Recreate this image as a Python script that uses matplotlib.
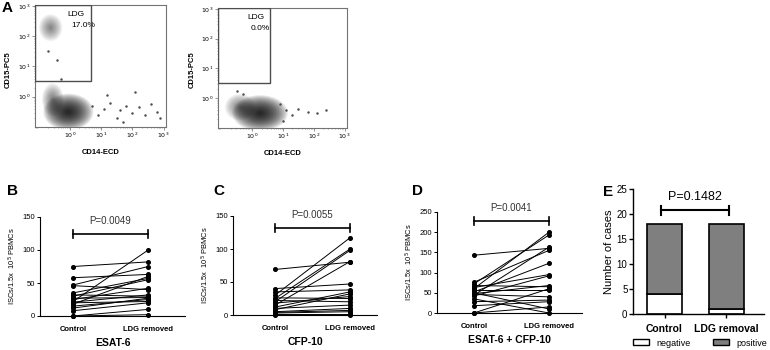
import numpy as np
import matplotlib
matplotlib.use("Agg")
from matplotlib import pyplot as plt
from matplotlib.patches import Ellipse, Rectangle, Patch

plt.rcParams["font.family"] = ["Liberation Sans", "DejaVu Sans"]

# ---- panel A: flow cytometry (log10 units) ----
# populations: (centre log10 CD14, centre log10 CD15, half-width, half-height, density)
pops_before = [(-0.05, -0.5, 0.8, 0.6, 0.10), (-0.55, -0.1, 0.35, 0.55, 0.04),
               (-0.62, 2.28, 0.38, 0.45, 0.035)]
pops_after = [(0.25, -0.5, 0.9, 0.6, 0.10), (-0.4, -0.3, 0.5, 0.45, 0.04)]
# sparse events on the CD14 tail (log10 x, log10 y)
tail_before_x = [0.7, 0.9, 1.1, 1.3, 1.5, 1.6, 1.8, 2.0, 2.2, 2.4, 2.6, 2.8, 2.9, 1.2, 2.1, 1.7, -0.4, -0.7, -0.3]
tail_before_y = [-0.3, -0.6, -0.4, -0.2, -0.7, -0.45, -0.3, -0.55, -0.35, -0.6, -0.25, -0.5, -0.7, 0.05, 0.15, -0.85, 1.2, 1.5, 0.6]
tail_after_x = [1.1, 1.3, 1.5, 1.8, 2.1, 2.4, 1.0, 0.9, -0.5, -0.3]
tail_after_y = [-0.4, -0.55, -0.35, -0.45, -0.5, -0.4, -0.75, -0.2, 0.25, 0.15]
ldg_pct = ["17.0%", "0.0%"]

# ---- panels B-D: paired ISC counts ----
esat_ctrl = [75, 58, 47, 46, 35, 32, 30, 27, 25, 22, 21, 20, 18, 15, 12, 8, 0, 0]
esat_ldg = [82, 63, 75, 40, 57, 30, 55, 28, 42, 100, 32, 22, 60, 25, 27, 20, 10, 2]
cfp_ctrl = [69, 40, 35, 30, 26, 25, 22, 20, 18, 15, 12, 10, 8, 5, 4, 3, 2, 0]
cfp_ldg = [80, 47, 38, 117, 25, 100, 20, 98, 28, 81, 35, 15, 32, 10, 7, 5, 2, 0]
comb_ctrl = [143, 76, 72, 68, 63, 60, 58, 52, 48, 46, 44, 42, 28, 18, 0, 0, 50, 35]
comb_ldg = [160, 155, 193, 65, 95, 200, 58, 123, 68, 40, 163, 92, 32, 28, 60, 15, 10, 0]
p_values = ["P=0.0049", "P=0.0055", "P=0.0041"]

# ---- panel E: case counts ----
groups = ["Control", "LDG removal"]
negative = [4, 1]
positive = [14, 17]

W, H = 770, 350
fig = plt.figure(figsize=(W / 100, H / 100), dpi=100)


def px_axes(l, t, r, b):
    return fig.add_axes([l / W, 1 - b / H, (r - l) / W, (b - t) / H])


def flow_panel(ax, pops, tx, ty, pct, gate_r, ylab_x):
    ax.set_xlim(-1.12, 3.08)
    ax.set_ylim(-1.0, 3.03)
    # each population as a stack of faint ellipses -> dark core, light rim
    for cx, cy, w, h, dens in pops:
        for s in np.linspace(1.0, 0.1, 16):
            ax.add_patch(Ellipse((cx, cy), 2 * w * s, 2 * h * s, facecolor="black",
                                 alpha=dens, edgecolor="none", zorder=2))
    ax.scatter(tx, ty, s=0.6, color="0.3", zorder=3)
    ax.add_patch(Rectangle((-1.12, np.log10(3.3)), 1.12 + gate_r, 3.03 - np.log10(3.3),
                           fill=False, edgecolor="0.3", lw=1.0, zorder=5))
    ax.text(gate_r - 0.75, 2.72, "LDG", fontsize=6, ha="left", va="center")
    ax.text(gate_r - 0.65, 2.35, pct, fontsize=6, ha="left", va="center")
    ticks = [0, 1, 2, 3]
    ax.set_xticks(ticks)
    ax.set_yticks(ticks)
    ax.set_xticklabels([f"$10^{t}$" for t in ticks], fontsize=4.5)
    ax.set_yticklabels([f"$10^{t}$" for t in ticks], fontsize=4.5)
    minor = [d + np.log10(m) for d in range(-2, 4) for m in range(2, 10)]
    ax.set_xticks([m for m in minor if -1.12 < m < 3.08], minor=True)
    ax.set_yticks([m for m in minor if -1.0 < m < 3.03], minor=True)
    ax.tick_params(length=2, width=0.5, pad=1, color="0.4")
    ax.tick_params(which="minor", length=1, width=0.4, color="0.4")
    for s in ax.spines.values():
        s.set_color("0.45")
        s.set_linewidth(0.8)
    ax.set_xlabel("CD14-ECD", fontsize=5.5, fontweight="bold", labelpad=6)
    fig.text(ylab_x / W, 1 - 70 / H, "CD15-PC5", rotation=90, fontsize=5.5,
             fontweight="bold", ha="center", va="center")


axA1 = px_axes(35, 5, 166, 127)
flow_panel(axA1, pops_before, tail_before_x, tail_before_y, ldg_pct[0], np.log10(4.8), 8)
axA2 = px_axes(218, 8, 347, 128)
flow_panel(axA2, pops_after, tail_after_x, tail_after_y, ldg_pct[1], np.log10(3.8), 192)
fig.text(2 / W, 1 - 8 / H, "A", fontsize=11, fontweight="bold", va="center")


def paired_panel(ax, ctrl, ldg, ymax, step, p, bar_y, xlim, title):
    for a, b in zip(ctrl, ldg):
        ax.plot([0, 1], [a, b], color="black", lw=0.7, marker="o", ms=2.6,
                zorder=3, clip_on=False)
    ax.set_xlim(*xlim)
    ax.set_ylim(0, ymax)
    ax.set_yticks(np.arange(0, ymax + 1, step))
    ax.set_xticks([0, 1])
    ax.set_xticklabels(["Control", "LDG removed"], fontsize=5.5, fontweight="bold")
    ax.tick_params(axis="x", length=0, pad=7)
    ax.tick_params(axis="y", length=2.5, width=0.7, labelsize=5.5, pad=1)
    for s in ("top", "right"):
        ax.spines[s].set_visible(False)
    for s in ("left", "bottom"):
        ax.spines[s].set_linewidth(0.8)
    ax.plot([0, 1], [bar_y, bar_y], color="black", lw=1.2, clip_on=False)
    for x in (0, 1):
        ax.plot([x, x], [bar_y - ymax * 0.04, bar_y + ymax * 0.04], color="black",
                lw=1.2, clip_on=False)
    ax.text(0.5, bar_y + ymax * 0.08, p, fontsize=7, ha="center", va="bottom", color="0.2")
    ax.set_ylabel("ISCs/1.5x  10$^5$ PBMCs", fontsize=5.4, labelpad=3)
    ax.set_xlabel(title, fontsize=7.5, fontweight="bold", labelpad=4)


axB = px_axes(40, 217, 185, 316)
paired_panel(axB, esat_ctrl, esat_ldg, 150, 50, p_values[0], 124, (-0.44, 1.49), "ESAT-6")
axC = px_axes(233, 216, 377, 315)
paired_panel(axC, cfp_ctrl, cfp_ldg, 150, 50, p_values[1], 132, (-0.56, 1.36), "CFP-10")
axD = px_axes(437, 212, 582, 313)
paired_panel(axD, comb_ctrl, comb_ldg, 250, 50, p_values[2], 228, (-0.49, 1.44), "ESAT-6 + CFP-10")
for lab, x in (("B", 7), ("C", 213), ("D", 412)):
    fig.text(x / W, 1 - 191 / H, lab, fontsize=11, fontweight="bold", va="center")

# ---- panel E ----
axE = px_axes(633, 189, 764, 314)
xpos = np.arange(len(groups))
axE.bar(xpos, negative, width=0.57, color="white", edgecolor="black", lw=1.2)
axE.bar(xpos, positive, bottom=negative, width=0.57, color="#7f7f7f",
        edgecolor="black", lw=1.2)
axE.set_xlim(-0.51, 1.61)
axE.set_ylim(0, 25)
axE.set_yticks(range(0, 26, 5))
axE.set_xticks(xpos)
axE.set_xticklabels(groups, fontsize=7.5, fontweight="bold")
axE.tick_params(axis="x", length=3, width=1.0, pad=4)
axE.tick_params(axis="y", length=3, width=1.0, labelsize=7, pad=1)
for s in ("top", "right"):
    axE.spines[s].set_visible(False)
for s in ("left", "bottom"):
    axE.spines[s].set_linewidth(1.0)
axE.set_ylabel("Number of cases", fontsize=8, labelpad=2)
bx0, bx1, by = -0.05, 1.05, 20.8
axE.plot([bx0, bx1], [by, by], color="black", lw=1.5, clip_on=False)
for x in (bx0, bx1):
    axE.plot([x, x], [by - 0.9, by + 0.9], color="black", lw=1.5, clip_on=False)
axE.text(0.5, 22.3, "P=0.1482", fontsize=9, ha="center", va="bottom")
fig.text(603 / W, 1 - 192 / H, "E", fontsize=11, fontweight="bold", va="center")
fig.legend(handles=[Patch(facecolor="white", edgecolor="black", lw=1.0, label="negative"),
                    Patch(facecolor="#7f7f7f", edgecolor="black", lw=1.0, label="positive")],
           loc="center", bbox_to_anchor=(700 / W, 1 - 343 / H), ncol=2, frameon=False,
           fontsize=6.5, handlelength=1.8, handleheight=0.6, columnspacing=2.5,
           handletextpad=0.8)

fig.savefig("out.png", dpi=100)
